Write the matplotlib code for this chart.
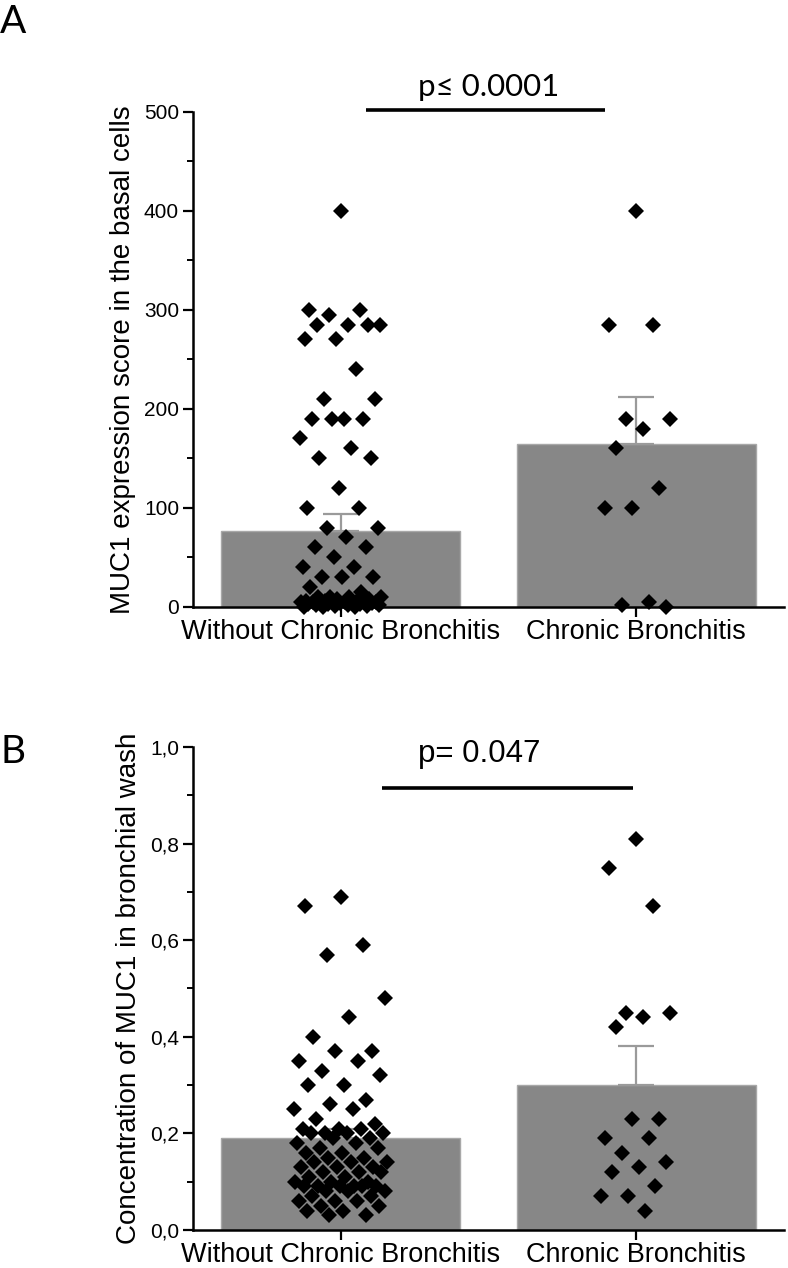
import numpy as np
import matplotlib
matplotlib.use("Agg")
import matplotlib.pyplot as plt
from matplotlib.ticker import MultipleLocator, FuncFormatter

# ---------------- data ----------------
categories = ["Without Chronic Bronchitis", "Chronic Bronchitis"]

# Panel A: MUC1 expression score in basal cells
a_without = [400, 300, 300, 295, 285, 285, 285, 285, 270, 270, 240, 210, 210,
             190, 190, 190, 190, 170, 160, 150, 150, 120, 100, 100, 80, 80, 70,
             60, 60, 50, 40, 40, 30, 30, 30, 20, 15,
             10, 10, 10, 10, 8, 8, 6, 6, 6, 5, 5, 5, 5, 5, 5, 5, 4, 4, 4, 3, 3,
             3, 2, 2, 2, 1, 1, 0, 0, 0]
a_cb = [400, 285, 285, 190, 190, 180, 160, 120, 100, 100, 5, 2, 0]
a_means = [77, 164]
a_sem = [17, 48]
a_pvalue = "p\u2264 0.0001"

# Panel B: concentration of MUC1 in bronchial wash
b_without = [0.69, 0.67, 0.59, 0.57, 0.48, 0.44, 0.40, 0.37, 0.37, 0.35, 0.35,
             0.33, 0.32, 0.30, 0.30, 0.27, 0.26, 0.25, 0.25, 0.23, 0.22, 0.21,
             0.21, 0.21, 0.20, 0.20, 0.20, 0.20, 0.19, 0.19, 0.18, 0.18, 0.17,
             0.17, 0.16, 0.16, 0.15, 0.15, 0.14, 0.14, 0.14, 0.13, 0.13, 0.13,
             0.12, 0.12, 0.12, 0.11, 0.11, 0.10, 0.10, 0.10, 0.09, 0.09, 0.09,
             0.09, 0.09, 0.09, 0.08, 0.08, 0.08, 0.07, 0.07, 0.06, 0.06, 0.06,
             0.05, 0.05, 0.04, 0.04, 0.03, 0.03]
b_cb = [0.81, 0.75, 0.67, 0.45, 0.45, 0.44, 0.42, 0.23, 0.23, 0.19, 0.19,
        0.16, 0.14, 0.13, 0.12, 0.09, 0.07, 0.07, 0.04]
b_means = [0.19, 0.30]
b_sem = [0.02, 0.08]
b_pvalue = "p= 0.047"

# ---------------- styling ----------------
BAR_COLOR = "#878787"
ERR_COLOR = "#9a9a9a"
SANS = ["Liberation Sans", "DejaVu Sans"]
plt.rcParams["font.family"] = SANS

fig = plt.figure(figsize=(7.88, 12.68), dpi=100)
axA = fig.add_axes([0.2449, 0.5215, 0.75, 0.3904])
axB = fig.add_axes([0.2449, 0.0300, 0.75, 0.3809])

GOLDEN = 0.6180339887498949


def jitter_offsets(values, half_width):
    """Deterministic, evenly spread horizontal jitter (golden-ratio sequence
    over the value ranks), like a scatter-dot plot with jitter."""
    n = len(values)
    order = np.argsort(-np.asarray(values), kind="stable")
    offs = np.zeros(n)
    for rank, i in enumerate(order):
        u = ((0.5 + rank * GOLDEN) % 1.0) * 2.0 - 1.0
        offs[i] = u * half_width
    return offs


def draw_panel(ax, groups, means, sems, ylim, major, minor, fmt, widths):
    x = np.arange(len(categories))
    ax.set_xlim(-0.5, 1.5)
    ax.set_ylim(*ylim)
    ax.bar(x, means, width=0.81, color=BAR_COLOR, edgecolor="#a8a8a8",
           linewidth=1.0, zorder=1)
    ax.errorbar(x, means, yerr=[np.zeros(len(means)), sems], fmt="none",
                ecolor=ERR_COLOR, elinewidth=1.6, capsize=13, capthick=1.6,
                zorder=2)
    for xi, vals, hw in zip(x, groups, widths):
        xs = xi + jitter_offsets(vals, hw)
        ax.plot(xs, vals, linestyle="none", marker="D", markersize=8.6,
                color="black", markeredgewidth=0, zorder=3, clip_on=False)
    for s in ["top", "right"]:
        ax.spines[s].set_visible(False)
    for s in ["left", "bottom"]:
        ax.spines[s].set_linewidth(1.8)
    ax.set_xticks(x)
    ax.set_xticklabels(categories, fontsize=19.5)
    ax.yaxis.set_major_locator(MultipleLocator(major))
    ax.yaxis.set_minor_locator(MultipleLocator(minor))
    ax.yaxis.set_major_formatter(FuncFormatter(fmt))
    ax.tick_params(axis="both", which="major", length=7, width=1.6,
                   labelsize=15, pad=3)
    ax.tick_params(axis="y", which="minor", length=4.5, width=1.4)
    ax.tick_params(axis="x", which="major", labelsize=19.5, pad=2)


draw_panel(axA, [a_without, a_cb], a_means, a_sem, (0, 500), 100, 50,
           lambda v, p: f"{v:.0f}", [0.14, 0.12])
axA.set_ylabel("MUC1 expression score in the basal cells", fontsize=20,
               labelpad=6)
axA.plot([0.085, 0.895], [502, 502], color="black", linewidth=2.6,
         clip_on=False, solid_capstyle="butt")
axA.text(0.50, 525, a_pvalue, ha="center", va="center", fontsize=22.5,
         family=["Lato", "DejaVu Sans"])

draw_panel(axB, [b_without, b_cb], b_means, b_sem, (0, 1.0), 0.2, 0.1,
           lambda v, p: f"{v:.1f}".replace(".", ","), [0.16, 0.12])
axB.set_ylabel("Concentration of MUC1 in bronchial wash", fontsize=20,
               labelpad=6)
axB.plot([0.139, 0.99], [0.915, 0.915], color="black", linewidth=2.6,
         clip_on=False, solid_capstyle="butt")
axB.text(0.47, 0.985, b_pvalue, ha="center", va="center", fontsize=22.5,
         family=SANS)

fig.text(0.0, 0.997, "A", fontsize=28, ha="left", va="top",
         family=["Lato", "DejaVu Sans"])
fig.text(0.0, 0.421, "B", fontsize=28, ha="left", va="top",
         family=["Lato", "DejaVu Sans"])

fig.savefig("out.png", dpi=100)
